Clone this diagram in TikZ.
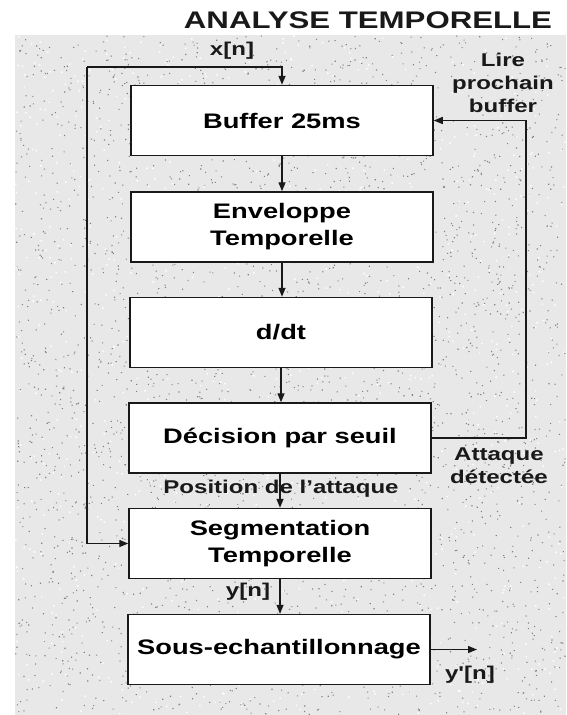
\documentclass[tikz,border=0pt]{standalone}
\usepackage{fontspec}
\setmainfont{Liberation Sans}[FakeStretch=1.3]
% same face without the TeX quote mapping, for a straight prime
\newfontfamily\plainsans{Liberation Sans}[FakeStretch=1.3]
\usetikzlibrary{arrows.meta}
\begin{document}
\begin{tikzpicture}[x=1pt,y=-1pt,
  block/.style={draw=black!90,line width=1.5pt,fill=white,minimum width=302pt,
    minimum height=70pt,inner sep=0pt,align=center,
    font=\fontsize{21}{27}\selectfont\bfseries},
  lbl/.style={inner sep=0pt,align=center,text=black!90,
    font=\fontsize{18.5}{23}\selectfont\bfseries},
  arr/.style={draw=black!90,line width=1.4pt,-{Triangle[length=9pt,width=7pt]}}]
\useasboundingbox (0,0) rectangle (566,715);

% grainy backdrop
\fill[black!9] (15,35) rectangle (566,715);
\pgfmathsetseed{11}
\fill[black!50] \foreach \i in {1,...,3200}{
  ({15+550*rnd},{35+679*rnd}) rectangle ++(1.1,1.1)};
\fill[white] \foreach \i in {1,...,1000}{
  ({15+550*rnd},{35+679*rnd}) rectangle ++(1.5,1.5)};

% title
\node[inner sep=0pt,font=\fontsize{24}{26}\selectfont\bfseries,text=black!90]
  (title) at (368,20.5) {ANALYSE TEMPORELLE};

% processing chain
\node[block] (b1) at (282,120.5) {Buffer 25ms};
\node[block] (b2) at (282,227) {Enveloppe\\Temporelle};
\node[block] (b3) at (281,332.5) {d/dt};
\node[block] (b4) at (280,438) {Décision par seuil};
\node[block] (b5) at (280,543.5) {Segmentation\\Temporelle};
\node[block] (b6) at (279,649.5) {Sous-echantillonnage};

% labels
\node[lbl] (xn) at (232,51) {x[n]};
\node[lbl] (lire) at (503,83) {Lire\\prochain\\buffer};
\node[lbl] (att) at (499,466) {Attaque\\détectée};
\node[lbl] (pos) at (281,489) {Position de l’attaque};
\node[lbl] (yn) at (248,592) {y[n]};
\node[lbl] (ypn) at (470,675) {\plainsans y'[n]};

% connectors
\coordinate (xin) at (87,67);
\coordinate (fbx) at (526,300);
\coordinate (yout) at (477,649.5);
\draw[arr] (xin) -| (b1.north);
\draw[arr] (xin) |- (b5.west);
\draw[arr] (b1.south) -- (b1.south |- b2.north);
\draw[arr] (b2.south) -- (b2.south |- b3.north);
\draw[arr] (b3.south) -- (b3.south |- b4.north);
\draw[arr] (b4.south) -- (b4.south |- b5.north);
\draw[arr] (b5.south) -- (b5.south |- b6.north);
\draw[arr] (b4.east) -- (b4.east -| fbx) |- (b1.east);
\draw[arr] (b6.east) -- (yout);
\end{tikzpicture}
\end{document}
